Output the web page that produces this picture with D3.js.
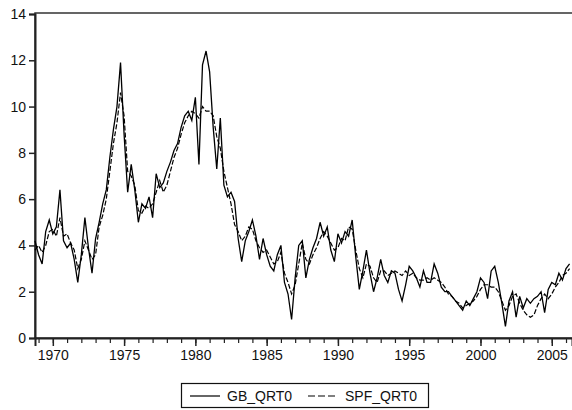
<!DOCTYPE html>
<html>
<head>
<meta charset="utf-8">
<script src="https://cdn.jsdelivr.net/npm/d3@7"></script>
<style>
  body { margin: 0; background: #fff; }
  svg text { font-family: "Liberation Sans", Arial, sans-serif; fill: #111; }
</style>
</head>
<body>
<div id="chart"></div>
<script>
// Quarterly observations, 1968Q4 .. 2006Q2
const startYear = 1968.75;

const gbQrt0 = [
    4.2, 3.6, 3.2, 4.6, 5.1, 4.5, 4.8, 6.4, 4.2, 3.9, 4.1, 3.4, 2.4,
    3.6, 5.2, 3.9, 2.8, 4.3, 5.0, 5.8, 6.4, 7.8, 9.0, 10.0, 11.9,
    8.8, 6.3, 7.5, 6.4, 5.0, 5.8, 5.6, 6.1, 5.2, 7.1, 6.5, 6.7,
    7.2, 7.6, 8.1, 8.4, 9.1, 9.6, 9.8, 9.4, 10.4, 7.5, 11.8, 12.4,
    11.5, 9.1, 7.3, 9.5, 6.6, 6.1, 6.3, 5.9, 4.3, 3.3, 4.2, 4.6,
    5.1, 4.4, 3.4, 4.3, 3.6, 3.1, 2.9, 3.6, 4.0, 2.4, 1.9, 0.8,
    2.6, 4.0, 4.2, 2.6, 3.4, 3.9, 4.3, 5.0, 4.4, 4.8, 3.8, 3.3,
    4.5, 4.1, 4.6, 4.4, 5.1, 3.5, 2.1, 2.9, 3.8, 2.8, 2.0, 2.6,
    3.4, 2.7, 2.4, 2.9, 2.8, 2.1, 1.6, 2.3, 3.1, 2.9, 2.6, 2.2,
    2.9, 2.4, 2.4, 3.2, 2.8, 2.2, 2.0, 2.0, 1.8, 1.6, 1.4, 1.2,
    1.6, 1.4, 1.7, 2.0, 2.6, 2.4, 1.7, 2.9, 3.1, 2.4, 1.5, 0.5,
    1.6, 2.0, 0.9, 1.8, 1.3, 1.7, 1.5, 1.7, 1.8, 2.0, 1.1, 2.1,
    2.4, 2.3, 2.8, 2.5, 3.0, 3.2
];

const spfQrt0 = [
    3.8, 4.0, 3.7, 4.0, 4.6, 4.7, 4.4, 5.2, 4.4, 4.5, 4.1, 3.8, 3.0,
    3.4, 4.2, 3.8, 3.4, 3.6, 4.8, 5.3, 6.0, 7.2, 8.4, 9.3, 10.6,
    9.6, 7.2, 7.0, 6.6, 5.5, 5.4, 5.7, 5.6, 5.8, 6.3, 6.8, 6.3,
    6.6, 7.2, 7.8, 8.2, 8.8, 9.3, 9.6, 9.8, 9.7, 9.5, 10.0, 9.8,
    9.8, 9.6, 8.7, 8.2, 7.2, 6.5, 5.8, 4.9, 4.6, 4.2, 4.4, 4.8,
    4.7, 4.2, 3.9, 3.7, 3.8, 3.5, 3.2, 3.3, 3.7, 2.8, 2.4, 1.9,
    2.3, 3.2, 4.1, 3.4, 3.2, 3.6, 3.9, 4.3, 4.6, 4.4, 4.1, 3.8,
    3.9, 4.3, 4.2, 4.8, 4.7, 3.8, 3.0, 2.6, 3.2, 3.1, 2.6, 2.4,
    2.9, 2.9, 2.7, 2.8, 2.9, 2.8, 2.7, 2.9, 2.7, 2.8, 2.6, 2.5,
    2.5, 2.6, 2.5, 2.6, 2.5, 2.4, 2.2, 1.9, 1.8, 1.6, 1.5, 1.3,
    1.4, 1.5, 1.6, 1.8, 2.1, 2.3, 2.3, 2.2, 2.2, 2.0, 1.6, 1.2,
    1.4, 1.8, 1.9, 1.5, 1.2, 1.0, 0.9, 1.0, 1.4, 1.7, 1.9, 1.7,
    1.9, 2.2, 2.4, 2.7, 2.8, 3.0
];

const yTicks = [0, 2, 4, 6, 8, 10, 12, 14];
const xMajorTicks = [1970, 1975, 1980, 1985, 1990, 1995, 2000, 2005];
const xMinorTicks = d3.range(1969, 2007);
const seriesNames = ["GB_QRT0", "SPF_QRT0"];

const width = 572, height = 410;
const plotLeft = 35, plotTop = 13, plotRight = 572, plotBottom = 338;

const svg = d3.select("#chart").append("svg")
    .attr("width", width)
    .attr("height", height);

const x = d3.scaleLinear().domain([1968.75, 2006.42]).range([plotLeft, plotRight]);
const y = d3.scaleLinear().domain([0, 14]).range([plotBottom, plotTop + 1]);

const toPoints = arr => arr.map((v, i) => ({ t: startYear + i / 4, v }));

// frame (right side runs off the picture)
svg.append("rect")
    .attr("x", plotLeft).attr("y", plotTop)
    .attr("width", plotRight - plotLeft + 4).attr("height", plotBottom - plotTop)
    .attr("fill", "none")
    .attr("stroke", "#333")
    .attr("stroke-width", 1.5);

// Y axis
const yAxis = svg.append("g")
    .attr("transform", `translate(${plotLeft},0)`)
    .call(d3.axisLeft(y).tickValues(yTicks).tickSize(6).tickPadding(3));
yAxis.select(".domain").attr("stroke", "#222").attr("stroke-width", 2);
yAxis.selectAll(".tick line").attr("stroke", "#222").attr("stroke-width", 1.5);
yAxis.selectAll("text").attr("font-size", 14).attr("fill", "#111");

// X axis: minor yearly ticks + major 5-year ticks
const xMinor = svg.append("g")
    .attr("transform", `translate(0,${plotBottom})`)
    .call(d3.axisBottom(x).tickValues(xMinorTicks).tickSize(5).tickFormat(""));
xMinor.select(".domain").remove();
xMinor.selectAll(".tick line").attr("stroke", "#222").attr("stroke-width", 1.2);

const xAxis = svg.append("g")
    .attr("transform", `translate(0,${plotBottom})`)
    .call(d3.axisBottom(x).tickValues(xMajorTicks).tickSize(8).tickPadding(4).tickFormat(d3.format("d")));
xAxis.select(".domain").attr("stroke", "#222").attr("stroke-width", 2);
xAxis.selectAll(".tick line").attr("stroke", "#222").attr("stroke-width", 1.5);
xAxis.selectAll("text").attr("font-size", 14).attr("fill", "#111");

const line = d3.line()
    .x(d => x(d.t))
    .y(d => y(d.v));

svg.append("path")
    .datum(toPoints(spfQrt0))
    .attr("d", line)
    .attr("fill", "none")
    .attr("stroke", "#000")
    .attr("stroke-width", 1.2)
    .attr("stroke-dasharray", "5,2");

svg.append("path")
    .datum(toPoints(gbQrt0))
    .attr("d", line)
    .attr("fill", "none")
    .attr("stroke", "#000")
    .attr("stroke-width", 1.3);

// Legend
const legend = svg.append("g");
legend.append("rect")
    .attr("x", 181.5).attr("y", 383.5)
    .attr("width", 247).attr("height", 24)
    .attr("fill", "#fff")
    .attr("stroke", "#111")
    .attr("stroke-width", 1.2);

const legendItems = [
    { name: seriesNames[0], x1: 190, dash: null },
    { name: seriesNames[1], x1: 308, dash: "7,3" }
];
legendItems.forEach(item => {
    legend.append("line")
        .attr("x1", item.x1).attr("x2", item.x1 + 30)
        .attr("y1", 396).attr("y2", 396)
        .attr("stroke", "#000")
        .attr("stroke-width", 1.2)
        .attr("stroke-dasharray", item.dash);
    legend.append("text")
        .attr("x", item.x1 + 37).attr("y", 401)
        .attr("font-size", 14)
        .text(item.name);
});
</script>
</body>
</html>
